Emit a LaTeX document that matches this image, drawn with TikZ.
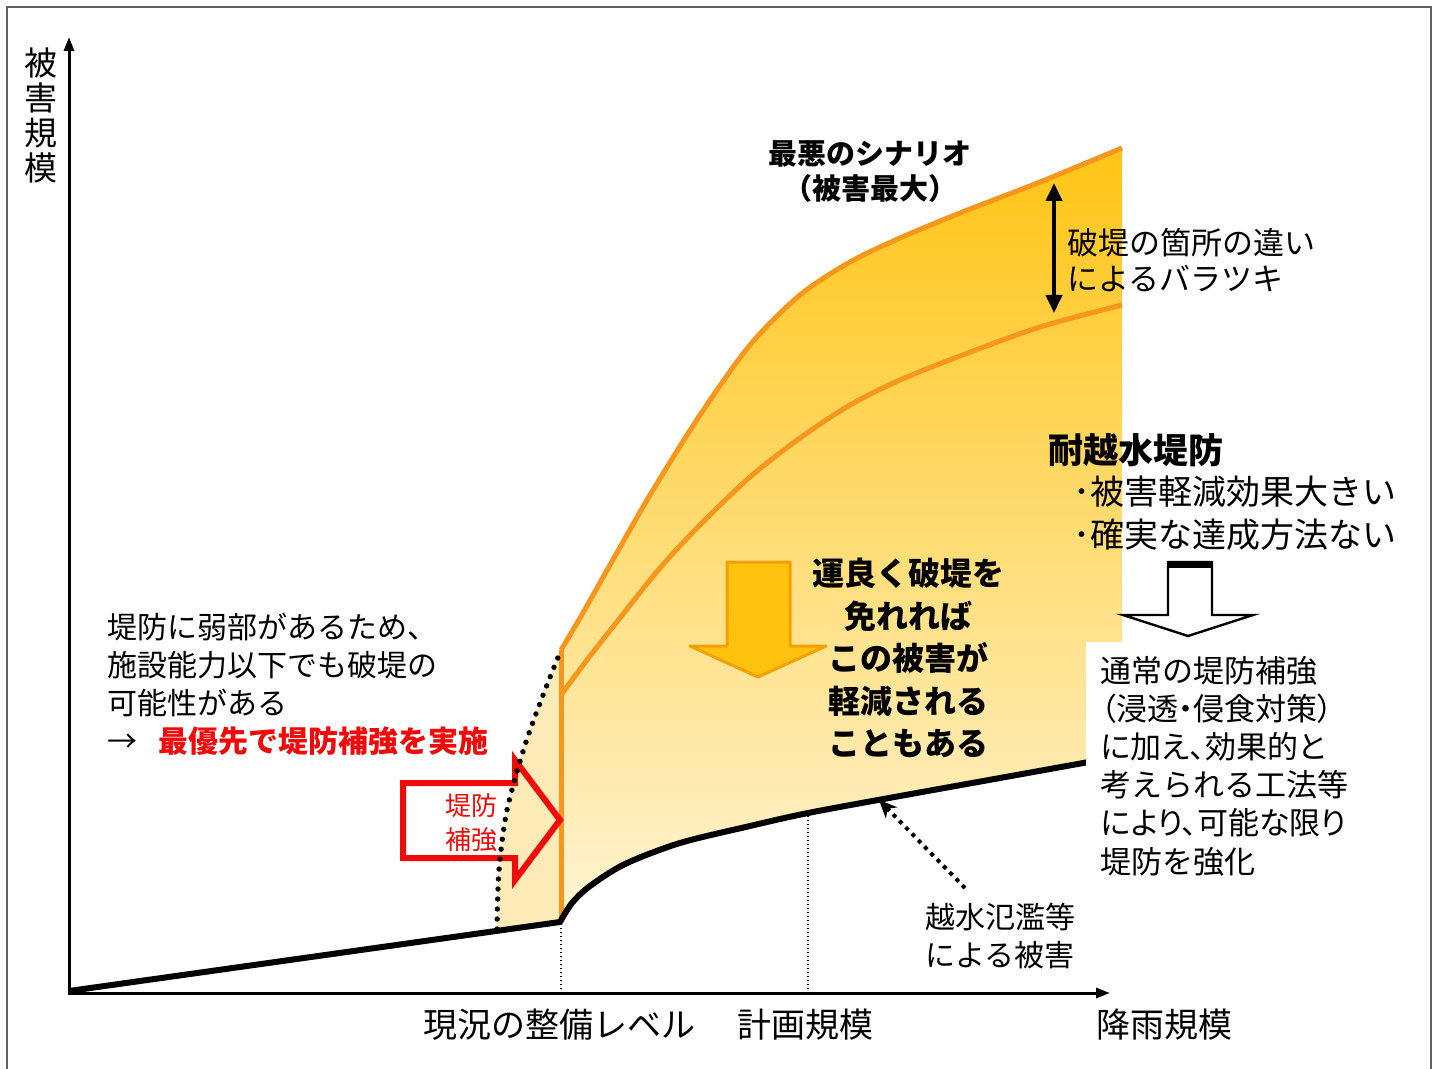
\documentclass[tikz,border=0pt]{standalone}
\usepackage{fontspec}
\newfontfamily\jp{Noto Sans CJK JP}
\usetikzlibrary{arrows.meta}
\definecolor{oline}{HTML}{F7961C}
\definecolor{fillTop}{HTML}{FFC414}
\definecolor{fillMid}{HTML}{FFE084}
\definecolor{fillBot}{HTML}{FFF4D4}
\definecolor{paleFill}{HTML}{FCEBB6}
\definecolor{redc}{HTML}{F00A0A}
\definecolor{arrowYellow}{HTML}{FFC20E}
\definecolor{arrowEdge}{HTML}{F5A000}
\definecolor{frameC}{HTML}{606060}
\newcommand{\propw}[1]{{\addfontfeatures{RawFeature=+palt}#1}}
\begin{document}
\begin{tikzpicture}[x=0.5pt,y=-0.5pt,
  jtext/.style={font=\jp\fontsize{15pt}{19pt}\selectfont, inner sep=0pt, align=left},
  curveline/.style={draw=oline, line width=2.5pt, line join=round},
  blackcurve/.style={line width=3pt, line join=round},
  finedots/.style={line width=0.7pt, dash pattern=on 0.7pt off 1.3pt},
  bigdots/.style={line width=2.7pt, line cap=round, dash pattern=on 0pt off 5pt},
  axisline/.style={line width=1.5pt, {Triangle[length=7pt,width=5pt]}-{Triangle[length=7pt,width=5pt]}}
]
\useasboundingbox (0,0) rectangle (1440,1069);
\fill[white] (0,0) rectangle (1440,1069);
\draw[frameC, line width=1pt] (7,1069) -- (7,7) -- (1431,7) -- (1431,1069);

% pale region left of current level
\fill[paleFill] plot[smooth] coordinates {(497,929) (499,870) (507,810) (525,745) (545,690) (561,650)} -- (561,922) -- cycle;

% main shaded band
\shade[top color=fillTop, middle color=fillMid, bottom color=fillBot]
  plot[smooth] coordinates {(561,650) (580,618) (610,565) (650,495) (700,415) (750,345) (800,295) (850,262) (900,238) (960,213) (1040,182) (1122,148)}
  -- plot[smooth] coordinates {(1122,756) (1000,778) (900,796) (808,813) (750,826) (680,843) (625,864) (590,886) (572,903) (560,922)}
  -- cycle;

% orange curves
\draw[curveline] (561,918) -- (561,650);
\draw[curveline] plot[smooth] coordinates {(561,650) (580,618) (610,565) (650,495) (700,415) (750,345) (800,295) (850,262) (900,238) (960,213) (1040,182) (1122,148)};
\draw[curveline] plot[smooth] coordinates {(561,695) (590,656) (620,618) (660,568) (700,525) (750,477) (800,438) (850,405) (900,380) (960,356) (1040,327) (1122,305)};

% black damage curve
\draw[blackcurve] (69,991) -- plot[smooth] coordinates {(560,922) (572,903) (590,886) (625,864) (680,843) (750,826) (808,813) (900,796) (1000,778) (1122,756)};

% vertical dotted guides
\coordinate (lvlBase) at (561,993);
\coordinate (lvlTop) at (561,922);
\coordinate (planBase) at (808,993);
\coordinate (planTop) at (808,813);
\draw[finedots] (lvlBase) -- (lvlTop);
\draw[finedots] (planBase) -- (planTop);

% axes
\coordinate (yTip) at (69,37);
\coordinate (orig) at (69,993);
\coordinate (xTip) at (1110,993);
\draw[axisline] (yTip) -- (orig) -- (xTip);

% red hollow arrow
\draw[redc, line width=3pt, line join=miter] (403,783) -- (515,783) -- (515,760) -- (560,820) -- (515,880) -- (515,858) -- (403,858) -- cycle;

% dotted weak-levee boundary
\draw[bigdots] plot[smooth] coordinates {(497,929) (499,870) (507,810) (525,745) (545,690) (561,650)};

% yellow down arrow
\draw[fill=arrowYellow, draw=arrowEdge, line width=1.5pt, line join=round] (727,562) -- (790,562) -- (790,646) -- (826,646) -- (758,677) -- (690,646) -- (727,646) -- cycle;

% variation double arrow
\coordinate (varTop) at (1054,183);
\coordinate (varBot) at (1054,313);
\draw[line width=2pt, {Triangle[length=9pt,width=8pt]}-{Triangle[length=9pt,width=8pt]}] (varTop) -- (varBot);

% white hollow down arrow
\draw[fill=white, line width=1.2pt, line join=miter] (1168,562) -- (1212,562) -- (1212,615) -- (1253,615) -- (1188,636) -- (1123,615) -- (1168,615) -- cycle;
\fill (1167,561) rectangle (1213,568);

% texts
\node[jtext, anchor=center, align=center, font=\jp\bfseries\fontsize{14.5pt}{17.5pt}\selectfont] (worst) at (870,172) {最悪のシナリオ\\（被害最大）};
\node[jtext, anchor=west, font=\jp\fontsize{15.5pt}{18pt}\selectfont] (variation) at (1067,260) {破堤の箇所の違い\\によるバラツキ};
\node[jtext, anchor=west, font=\jp\bfseries\fontsize{17.5pt}{20pt}\selectfont] (taietsu) at (1048,450) {耐越水堤防};
\node[jtext, anchor=west, font=\jp\fontsize{17pt}{21.5pt}\selectfont] (bullets) at (1073,513) {･被害軽減効果大きい\\･確実な達成方法ない};
\node[jtext, anchor=center, align=center, font=\jp\bfseries\fontsize{16pt}{21.25pt}\selectfont] (lucky) at (908,658) {運良く破堤を\\免れれば\\この被害が\\軽減される\\こともある};
\node[jtext, anchor=west] (weak) at (107,684) {堤防に弱部があるため、\\施設能力以下でも破堤の\\可能性がある\\→\hspace{10.5pt}{\color{redc}\bfseries 最優先で堤防補強を実施}};
\node[jtext, anchor=center, align=center, text=redc, font=\jp\fontsize{13pt}{17pt}\selectfont] (reinforce) at (471,823) {堤防\\補強};
\node[jtext, anchor=west, fill=white, inner xsep=7.5pt, inner ysep=7pt, font=\jp\fontsize{15.5pt}{19.1pt}\selectfont] (normal) at (1085.5,766) {通常の堤防補強\\\propw{（浸透・侵食対策）}\\\propw{に加え、効果的と}\\考えられる工法等\\\propw{により、可能な限り}\\堤防を強化};
\node[jtext, anchor=center, align=center] (flood) at (1000,936) {越水氾濫等\\による被害};
\node[jtext, anchor=center, align=center, font=\jp\fontsize{16.5pt}{17.5pt}\selectfont] (ylabel) at (41,115) {被\\害\\規\\模};
\node[jtext, anchor=center, font=\jp\fontsize{17pt}{20pt}\selectfont] (lvlLabel) at (559,1025) {現況の整備レベル};
\node[jtext, anchor=center, font=\jp\fontsize{17pt}{20pt}\selectfont] (planLabel) at (805,1025) {計画規模};
\node[jtext, anchor=center, font=\jp\fontsize{17pt}{20pt}\selectfont] (rainLabel) at (1164,1025) {降雨規模};

% dotted pointer to overflow damage curve
\coordinate (floodStart) at (965,888);
\coordinate (curvePt) at (879,800);
\draw[line width=2pt, dash pattern=on 2pt off 2.5pt, -{Stealth[length=9pt,width=8pt]}] (floodStart) -- (curvePt);
\end{tikzpicture}
\end{document}
